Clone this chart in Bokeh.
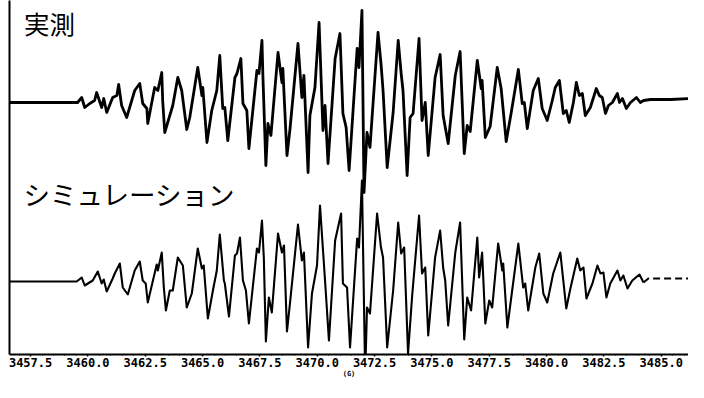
import numpy as np
from bokeh.plotting import figure
from bokeh.models import Range1d, SingleIntervalTicker, PrintfTickFormatter, Label, FixedTicker
from bokeh.embed import file_html
from bokeh.resources import INLINE

# Magnetic field (G) and intensity (arb. units)
obs_field = [3456.58, 3457.89, 3459.55, 3459.73, 3459.86, 3460.08, 3460.29, 3460.38, 3460.60, 3460.69,
             3460.82, 3461.08, 3461.26, 3461.34, 3461.47, 3461.69, 3462.04, 3462.26, 3462.39, 3462.57,
             3462.61, 3462.91, 3463.05, 3463.22, 3463.26, 3463.35, 3463.57, 3463.70, 3463.92, 3464.09,
             3464.31, 3464.44, 3464.79, 3464.97, 3465.01, 3465.19, 3465.40, 3465.62, 3465.75, 3465.88,
             3465.97, 3466.10, 3466.41, 3466.50, 3466.67, 3466.76, 3466.93, 3467.02, 3467.37, 3467.46,
             3467.59, 3467.63, 3467.76, 3467.85, 3467.98, 3468.29, 3468.46, 3468.50, 3468.68, 3468.81,
             3469.16, 3469.33, 3469.42, 3469.60, 3469.68, 3469.90, 3470.08, 3470.25, 3470.34, 3470.47,
             3470.78, 3470.99, 3471.12, 3471.26, 3471.39, 3471.74, 3471.82, 3471.95, 3472.04, 3472.17,
             3472.30, 3472.65, 3472.78, 3472.87, 3473.05, 3473.31, 3473.53, 3473.66, 3473.74, 3473.92,
             3474.05, 3474.18, 3474.44, 3474.57, 3474.71, 3474.84, 3475.14, 3475.36, 3475.49, 3475.71,
             3476.02, 3476.23, 3476.41, 3476.54, 3476.67, 3476.98, 3477.15, 3477.19, 3477.33, 3477.54,
             3477.85, 3478.02, 3478.24, 3478.46, 3478.77, 3478.94, 3479.03, 3479.16, 3479.42, 3479.64,
             3479.81, 3480.03, 3480.25, 3480.38, 3480.56, 3480.73, 3480.86, 3480.99, 3481.17, 3481.30,
             3481.43, 3481.56, 3481.69, 3481.91, 3482.17, 3482.30, 3482.43, 3482.57, 3482.70, 3482.87,
             3483.09, 3483.18, 3483.31, 3483.48, 3483.66, 3483.92, 3484.09, 3484.23, 3484.53, 3485.40,
             3486.28, 3486.89]
obs_signal = [0, 0, 0, 5, -5, -1, 2, 10, -5, 4,
              -10, 5, 7, 18, -3, -15, 12, 19, -1, -6,
              -21, 15, 12, 30, 2, -30, -13, -3, 25, 12,
              -27, -15, 35, 7, 15, -40, -8, 12, 47, -6,
              -5, -38, 25, 29, 44, -1, -8, -46, 32, 29,
              62, 27, -63, -21, -33, 50, 20, 34, -53, -27,
              59, 5, 27, -70, -13, 15, 80, -28, -3, -61,
              44, 69, -11, -25, -68, 54, 35, 92, -90, -30,
              -45, 70, 39, 12, -65, -10, 62, 29, 12, -73,
              -15, -11, 64, -18, 0, -53, 25, 48, -13, -41,
              27, 51, -51, -23, -29, 42, 14, 22, -35, -24,
              35, 14, -39, -10, 33, -1, 0, -26, 12, 24,
              -6, -18, 2, 15, 22, -11, -8, -20, 0, 20,
              7, 9, -13, -5, 14, 7, 5, -11, -3, 0,
              9, 0, 4, -6, 0, 5, 0, 2, 3, 3,
              4, 4]

sim_field = [3456.58, 3457.89, 3459.51, 3459.73, 3459.86, 3460.21, 3460.43, 3460.60, 3460.69, 3460.82,
             3461.08, 3461.17, 3461.39, 3461.52, 3461.74, 3462.04, 3462.26, 3462.39, 3462.52, 3462.61,
             3463.00, 3463.05, 3463.22, 3463.31, 3463.40, 3463.57, 3463.70, 3463.92, 3464.14, 3464.31,
             3464.53, 3464.79, 3464.97, 3465.05, 3465.23, 3465.45, 3465.62, 3465.75, 3465.93, 3465.97,
             3466.15, 3466.41, 3466.50, 3466.63, 3466.76, 3466.89, 3467.02, 3467.37, 3467.46, 3467.59,
             3467.67, 3467.76, 3467.89, 3468.02, 3468.29, 3468.46, 3468.55, 3468.68, 3468.81, 3469.16,
             3469.33, 3469.42, 3469.60, 3469.77, 3469.99, 3470.12, 3470.34, 3470.51, 3470.78, 3471.04,
             3471.12, 3471.30, 3471.43, 3471.74, 3471.82, 3471.95, 3472.09, 3472.17, 3472.30, 3472.61,
             3472.78, 3472.87, 3473.05, 3473.31, 3473.53, 3473.66, 3473.79, 3473.96, 3474.14, 3474.44,
             3474.57, 3474.71, 3474.84, 3475.14, 3475.36, 3475.49, 3475.58, 3475.71, 3476.02, 3476.23,
             3476.41, 3476.54, 3476.71, 3476.98, 3477.06, 3477.19, 3477.33, 3477.50, 3477.63, 3477.89,
             3478.07, 3478.11, 3478.29, 3478.50, 3478.77, 3478.98, 3479.07, 3479.20, 3479.51, 3479.68,
             3479.86, 3480.03, 3480.29, 3480.60, 3480.73, 3480.86, 3481.04, 3481.34, 3481.47, 3481.61,
             3481.74, 3482.00, 3482.22, 3482.35, 3482.48, 3482.61, 3482.78, 3483.09, 3483.22, 3483.35,
             3483.53, 3483.74, 3484.05, 3484.23, 3484.44, 3484.97, 3486.89]
sim_signal = [0, 0, 0, 4, -4, 1, 10, -2, 2, -10,
              3, 8, 18, -6, -13, 11, 20, 1, -2, -21,
              17, 11, 29, -6, -29, -9, -9, 24, 16, -26,
              -12, 33, 13, 16, -37, -9, 11, 47, 1, -2,
              -35, 26, 28, 44, 1, -9, -42, 33, 29, 61,
              24, -60, -16, -31, 48, 29, 36, -50, -22, 57,
              21, 29, -66, -12, 16, 76, 1, -59, 41, 68,
              -2, -6, -66, 43, 34, 101, -94, -26, -32, 68,
              34, 24, -66, -9, 59, 28, 34, -72, -14, 66,
              8, 14, -54, 24, 51, 14, 1, -44, 29, 59,
              -58, -16, -29, 44, 4, 29, -42, -19, -26, 38,
              11, 18, -46, -9, 38, -6, -2, -29, 14, 28,
              -12, -21, 8, 29, 1, -27, -7, 23, 11, 14,
              -17, -2, 16, 8, 9, -16, -2, 11, 1, 6,
              -7, 1, 7, -1, 3, 3, 3]
sim_tail_start = 3484.23  # right-hand tail drawn broken

tick_step = 2.5
unit_label = "(G)"
labels_jp = ["実測", "シミュレーション"]

p = figure(width=688, height=382, output_backend="svg", toolbar_location=None,
           x_range=Range1d(3456.58, 3486.19), y_range=Range1d(0, 354),
           min_border_left=9, min_border_right=0, min_border_top=0, min_border_bottom=28)
p.outline_line_color = None
p.xgrid.visible = False
p.ygrid.visible = False
p.background_fill_color = "white"
p.border_fill_color = "white"

# vertical offsets of the two traces (layout)
top_base = 252
bot_base = 73

obs_y = np.array(obs_signal, dtype=float) + top_base
p.line(obs_field, obs_y, line_color="black", line_width=2.8, line_join="round")

sf = np.array(sim_field)
sy = np.array(sim_signal, dtype=float) + bot_base
main = sf <= sim_tail_start
p.line(sf[main], sy[main], line_color="black", line_width=2.1, line_join="round")
tail = sf >= sim_tail_start
p.line(sf[tail], sy[tail], line_color="black", line_width=2.0, line_dash="7 4")

# axes
xa = p.xaxis[0]
xa.ticker = SingleIntervalTicker(interval=tick_step, num_minor_ticks=5)
xa.formatter = PrintfTickFormatter(format="%.1f")
xa.axis_line_width = 2
xa.axis_line_color = "black"
xa.major_tick_line_width = 1.5
xa.major_tick_out = 2
xa.major_tick_in = 0
xa.minor_tick_out = 1
xa.minor_tick_in = 0
xa.major_label_standoff = 1
xa.major_label_text_font = "DejaVu Sans Mono"
xa.major_label_text_font_style = "bold"
xa.major_label_text_font_size = "12px"
xa.major_label_text_color = "black"
xa.axis_label = unit_label
xa.axis_label_text_font = "DejaVu Sans Mono"
xa.axis_label_text_font_style = "bold"
xa.axis_label_text_font_size = "7px"
xa.axis_label_standoff = 0
xa.axis_label_text_color = "black"

ya = p.yaxis[0]
ya.ticker = FixedTicker(ticks=[])
ya.axis_line_width = 2
ya.axis_line_color = "black"
ya.major_tick_line_color = None
ya.minor_tick_line_color = None
ya.major_label_standoff = 0

p.add_layout(Label(x=3457.21, y=332, text=labels_jp[0], text_font="Noto Sans CJK JP",
                   text_font_size="25.5px", text_baseline="middle", text_align="left",
                   text_color="black"))
p.add_layout(Label(x=3457.19, y=161, text=labels_jp[1], text_font="Noto Sans CJK JP",
                   text_font_size="26.5px", text_baseline="middle", text_align="left",
                   text_color="black"))

open("out.html", "w").write(file_html(p, INLINE))
